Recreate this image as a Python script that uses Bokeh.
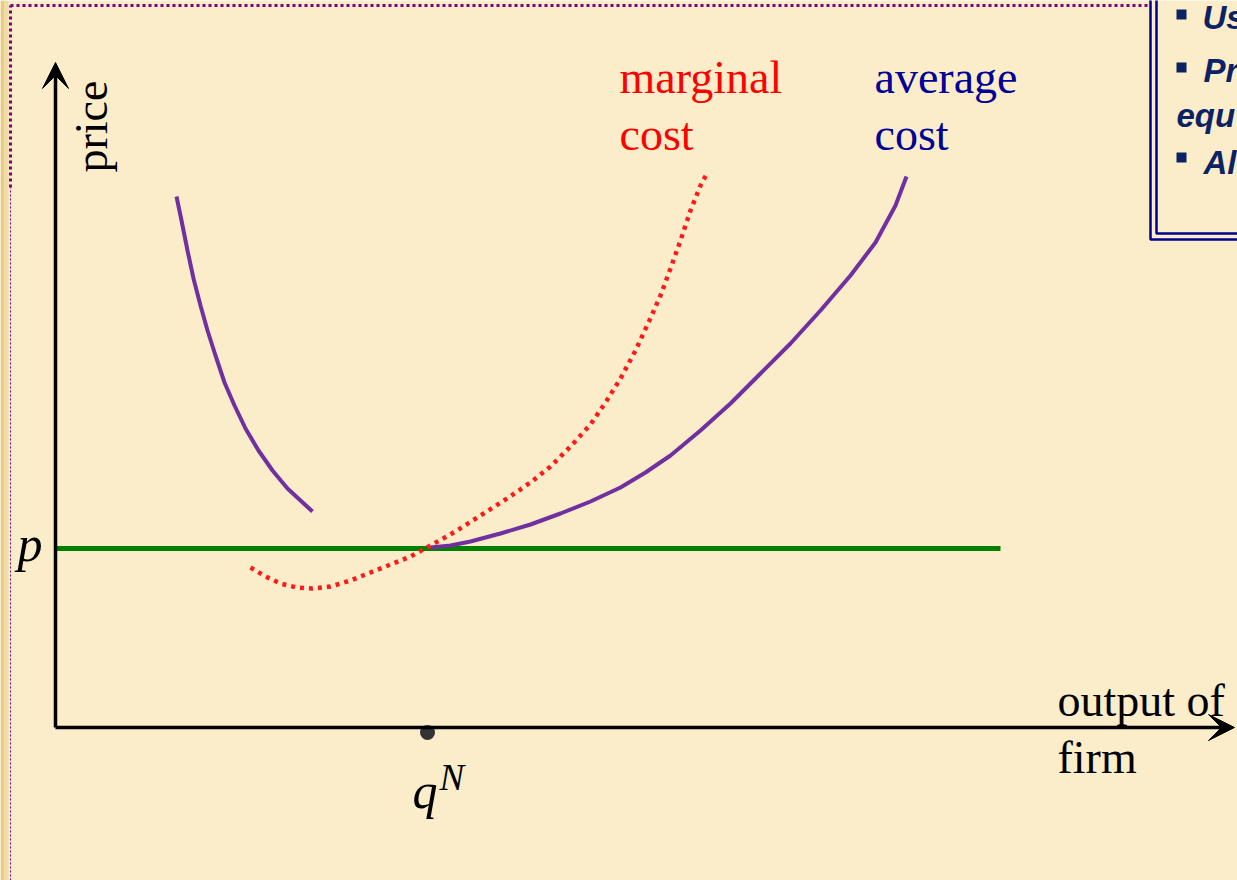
from bokeh.plotting import figure
from bokeh.models import Range1d, Arrow, VeeHead
from bokeh.core.properties import value
from bokeh.embed import file_html
from bokeh.resources import INLINE

# ---- data (economic units: output q, price) ----
ac_left_q = [1.21, 1.26, 1.32, 1.38, 1.45, 1.52, 1.60, 1.69, 1.79, 1.90, 2.03, 2.17, 2.32, 2.45, 2.57]
ac_left_p = [5.31, 5.07, 4.77, 4.49, 4.22, 3.97, 3.72, 3.45, 3.22, 2.99, 2.77, 2.57, 2.39, 2.27, 2.16]

ac_right_q = [3.75, 3.95, 4.15, 4.45, 4.75, 5.05, 5.35, 5.65, 5.90, 6.15, 6.45, 6.75,
              7.05, 7.35, 7.65, 7.95, 8.20, 8.40, 8.51]
ac_right_p = [1.80, 1.82, 1.86, 1.94, 2.03, 2.14, 2.26, 2.40, 2.55, 2.72, 2.97, 3.24,
              3.54, 3.84, 4.17, 4.52, 4.85, 5.22, 5.51]

mc_q = [1.95, 2.10, 2.25, 2.41, 2.57, 2.75, 2.95, 3.15, 3.35, 3.55, 3.75, 4.00, 4.25,
        4.50, 4.75, 4.95, 5.15, 5.35, 5.50, 5.65, 5.80, 5.93, 6.05, 6.15, 6.25, 6.35, 6.45, 6.52]
mc_p = [1.60, 1.51, 1.44, 1.40, 1.39, 1.41, 1.47, 1.55, 1.63, 1.71, 1.82, 1.96, 2.12,
        2.28, 2.45, 2.61, 2.81, 3.03, 3.25, 3.49, 3.77, 4.05, 4.32, 4.59, 4.87, 5.17, 5.42, 5.55]

price_level = 1.79
price_line_q = [0.0, 9.45]
q_n = 3.72

label_price = "price"
label_p = "p"
label_q = "q"
label_q_sup = "N"
label_mc = ["marginal", "cost"]
label_ac = ["average", "cost"]
label_output = ["output of", "firm"]
box_lines = ["Us", "Pr", "equ", "Al"]
box_bullets = [True, True, False, True]

# ---- figure ----
W, H = 1237, 880
BG = "#FBEDC9"


def X(px):
    return (px - 55) / 100.0


def Y(py):
    return (727 - py) / 100.0


def B(fs):
    # baseline correction (in data units) for a font size in px
    return 0.29 * fs / 100.0


p = figure(width=W, height=H, output_backend="svg", toolbar_location=None,
           x_range=Range1d(X(0), X(W)), y_range=Range1d(Y(H), Y(0)),
           min_border=0, background_fill_color=BG, border_fill_color=BG,
           outline_line_color=None)
p.xaxis.visible = False
p.yaxis.visible = False
p.grid.visible = False

# gold strip at the left edge of the slide
p.quad(left=[X(0)], right=[X(4)], bottom=[Y(H)], top=[Y(0)], fill_color="#E6CC85", line_color=None)
p.quad(left=[X(4)], right=[X(8)], bottom=[Y(H)], top=[Y(0)], fill_color="#F0DCA6", line_color=None)

# slide decorations: dotted purple frame
p.line([X(10), X(10)], [Y(187), Y(5)], line_color="#800080", line_width=3, line_dash="3 3")
p.line([X(10), X(1148)], [Y(5), Y(5)], line_color="#800080", line_width=3, line_dash="3 3")
p.line([X(10), X(10)], [Y(H), Y(187)], line_color="#800080", line_width=1, line_dash="2 2")

# top-right double box
p.line([X(1150), X(1150), X(1240)], [Y(-2), Y(239), Y(239)], line_color="#000090", line_width=2.5)
p.line([X(1156), X(1156), X(1240)], [Y(-2), Y(233), Y(233)], line_color="#000090", line_width=2.5)
box_x = [X(1202), X(1203), X(1176), X(1203)]
box_y = [Y(27) + B(33), Y(80) + B(33), Y(125) + B(33), Y(172) + B(33)]
p.text(box_x, box_y, text=box_lines, text_font=value("Liberation Sans"), text_font_size="33px",
       text_font_style="bold italic", text_color="#0B2265", text_baseline="alphabetic")
bx = [X(1181) for b in box_bullets if b]
by = [Y(py) for py, b in zip([14, 67, 0, 157], box_bullets) if b]
p.scatter(bx, by, marker="square", size=10, fill_color="#0B2265", line_color=None)

# price line
p.line(price_line_q, [price_level, price_level], line_color="#008000", line_width=5)

# curves
p.line(ac_left_q, ac_left_p, line_color="#7030A0", line_width=4)
p.line(ac_right_q, ac_right_p, line_color="#7030A0", line_width=4)
p.line(mc_q, mc_p, line_color="#FF1A1A", line_width=4.5, line_dash="4 5")

# axes with arrows
p.add_layout(Arrow(end=VeeHead(size=26, fill_color="black", line_color="black"),
                   x_start=0, y_start=0, x_end=0, y_end=Y(62),
                   line_color="black", line_width=3.5))
p.add_layout(Arrow(end=VeeHead(size=26, fill_color="black", line_color="black"),
                   x_start=0, y_start=0, x_end=X(1234), y_end=0,
                   line_color="black", line_width=3.5))

# q^N marker
p.scatter([q_n], [-0.05], size=15, fill_color="#333333", line_color=None, level="underlay")

serif = value("Liberation Serif")
p.text([X(104) - B(46)], [Y(172)], text=[label_price], angle=1.5708, text_font=serif,
       text_font_size="46px", text_color="black", text_baseline="alphabetic")
p.text([X(17)], [Y(558) + B(50)], text=[label_p], text_font=serif, text_font_size="50px",
       text_font_style="italic", text_color="black", text_baseline="alphabetic")
p.text([q_n - 0.15], [Y(805) + B(50)], text=[label_q], text_font=serif, text_font_size="50px",
       text_font_style="italic", text_color="black", text_baseline="alphabetic")
p.text([q_n + 0.12], [Y(788) + B(37)], text=[label_q_sup], text_font=serif, text_font_size="37px",
       text_font_style="italic", text_color="black", text_baseline="alphabetic")
p.text([X(619), X(619)], [Y(90) + B(46), Y(147) + B(46)], text=label_mc, text_font=serif,
       text_font_size="46px", text_color="#FF0000", text_baseline="alphabetic")
p.text([X(874), X(874)], [Y(90) + B(46), Y(147) + B(46)], text=label_ac, text_font=serif,
       text_font_size="46px", text_color="#000099", text_baseline="alphabetic")
p.text([X(1057), X(1057)], [Y(713) + B(46), Y(770) + B(46)], text=label_output, text_font=serif,
       text_font_size="46px", text_color="black", text_baseline="alphabetic")

open("out.html", "w").write(file_html(p, INLINE))
